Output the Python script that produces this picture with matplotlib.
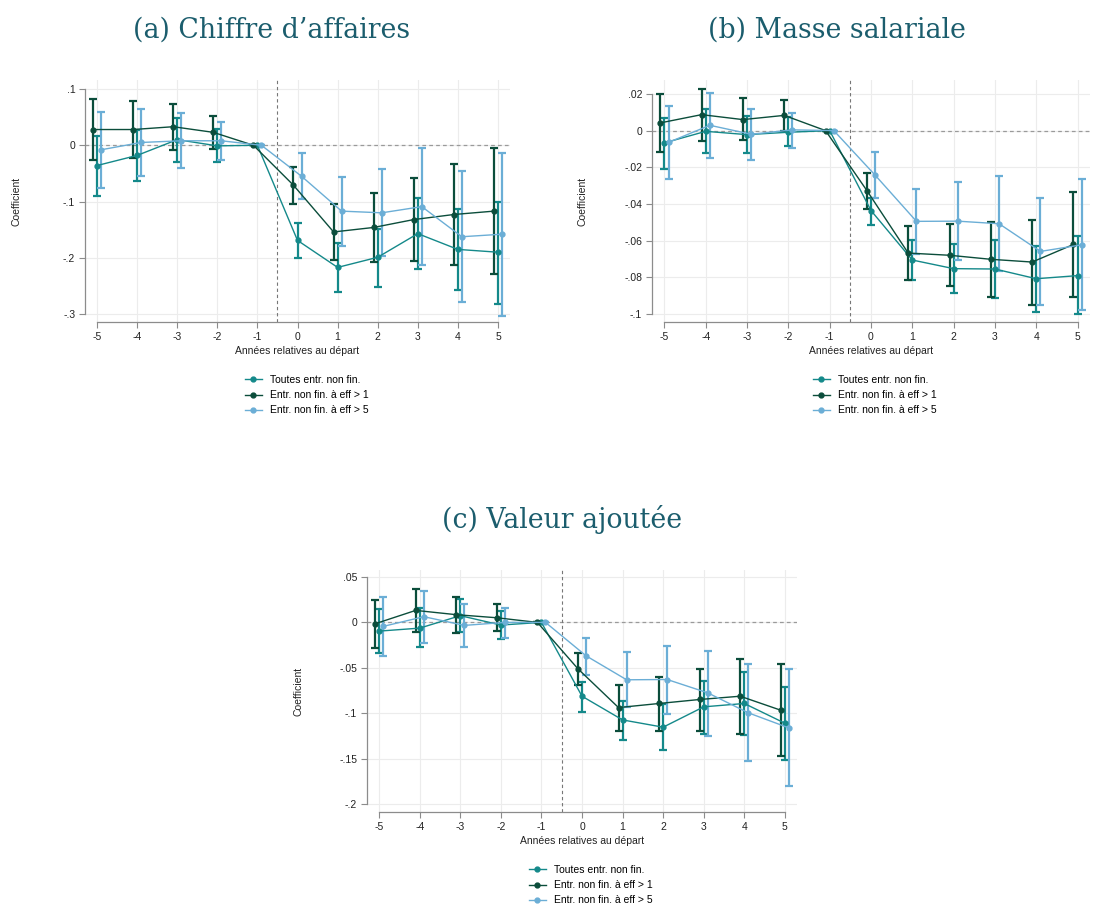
import numpy as np
import matplotlib
matplotlib.use('Agg')
import matplotlib.pyplot as plt

# years relative to departure
years = np.arange(-5, 6)

# (a) Chiffre d'affaires
a_all = [-0.036, -0.018, 0.010, -0.001, 0, -0.169, -0.217, -0.199, -0.157, -0.185, -0.190]
a_all_hi = [0.017, 0.027, 0.048, 0.029, 0, -0.1375, -0.174, -0.148, -0.094, -0.113, -0.101]
a_all_lo = [-0.090, -0.064, -0.029, -0.030, 0, -0.201, -0.261, -0.251, -0.219, -0.257, -0.282]
a_e1 = [0.028, 0.028, 0.033, 0.023, 0, -0.071, -0.154, -0.146, -0.132, -0.123, -0.117]
a_e1_hi = [0.083, 0.079, 0.074, 0.052, 0, -0.038, -0.105, -0.085, -0.058, -0.034, -0.005]
a_e1_lo = [-0.027, -0.022, -0.008, -0.006, 0, -0.105, -0.204, -0.207, -0.205, -0.212, -0.229]
a_e5 = [-0.008, 0.005, 0.008, 0.008, 0, -0.055, -0.117, -0.120, -0.109, -0.1625, -0.158]
a_e5_hi = [0.060, 0.064, 0.057, 0.042, 0, -0.014, -0.057, -0.042, -0.005, -0.045, -0.013]
a_e5_lo = [-0.076, -0.054, -0.040, -0.027, 0, -0.096, -0.179, -0.196, -0.213, -0.279, -0.304]

# (b) Masse salariale
b_all = [-0.0067, -0.0004, -0.0022, -0.0009, 0, -0.0436, -0.0706, -0.0753, -0.0755, -0.0808, -0.0791]
b_all_hi = [0.0071, 0.0118, 0.0080, 0.0074, 0, -0.0370, -0.0595, -0.0620, -0.0595, -0.0628, -0.0577]
b_all_lo = [-0.0207, -0.0123, -0.0120, -0.0083, 0, -0.0514, -0.0817, -0.0886, -0.0915, -0.0987, -0.1002]
b_e1 = [0.0042, 0.0087, 0.0060, 0.0083, 0, -0.0327, -0.0668, -0.0680, -0.0702, -0.0717, -0.0621]
b_e1_hi = [0.0198, 0.0227, 0.0176, 0.0165, 0, -0.0229, -0.0523, -0.0508, -0.0497, -0.0485, -0.0336]
b_e1_lo = [-0.0116, -0.0056, -0.0054, -0.0002, 0, -0.0425, -0.0817, -0.0849, -0.0906, -0.0951, -0.0907]
b_e5 = [-0.0064, 0.0029, -0.0020, 0.0004, 0, -0.0243, -0.0495, -0.0494, -0.0508, -0.0659, -0.0623]
b_e5_hi = [0.0134, 0.0203, 0.0116, 0.0098, 0, -0.0116, -0.0316, -0.0280, -0.0249, -0.0367, -0.0265]
b_e5_lo = [-0.0265, -0.0149, -0.0160, -0.0094, 0, -0.0365, -0.0671, -0.0706, -0.0766, -0.0949, -0.0978]

# (c) Valeur ajoutée
c_all = [-0.0096, -0.0063, 0.0074, -0.0029, 0, -0.0813, -0.1074, -0.1154, -0.0930, -0.0893, -0.1110]
c_all_hi = [0.0151, 0.0154, 0.0261, 0.0121, 0, -0.0654, -0.0864, -0.0904, -0.0643, -0.0544, -0.0710]
c_all_lo = [-0.0342, -0.0276, -0.0110, -0.0180, 0, -0.0982, -0.1290, -0.1401, -0.1224, -0.1235, -0.1518]
c_e1 = [-0.0015, 0.0132, 0.0085, 0.0051, 0, -0.0511, -0.0938, -0.0893, -0.0849, -0.0813, -0.0967]
c_e1_hi = [0.0246, 0.0368, 0.0283, 0.0199, 0, -0.0335, -0.0691, -0.0599, -0.0511, -0.0401, -0.0460]
c_e1_lo = [-0.0280, -0.0110, -0.0118, -0.0099, 0, -0.0684, -0.1191, -0.1195, -0.1199, -0.1224, -0.1474]
c_e5 = [-0.0044, 0.0063, -0.0033, 0.0000, 0, -0.0368, -0.0632, -0.0629, -0.0776, -0.0996, -0.1162]
c_e5_hi = [0.0283, 0.0346, 0.0206, 0.0162, 0, -0.0169, -0.0331, -0.0261, -0.0313, -0.0463, -0.0518]
c_e5_lo = [-0.0371, -0.0224, -0.0268, -0.0176, 0, -0.0574, -0.0930, -0.1004, -0.1246, -0.1526, -0.1805]

labels = ['Toutes entr. non fin.', 'Entr. non fin. à eff > 1', 'Entr. non fin. à eff > 5']
colors = ['#14898a', '#0b4d3b', '#6baed6']
offsets = [0.0, -0.1, 0.1]

plt.rcParams['font.family'] = ['Liberation Sans', 'DejaVu Sans']
plt.rcParams['axes.unicode_minus'] = False
W, H = 1093, 905
fig = plt.figure(figsize=(W / 100, H / 100), dpi=100)
title_color = '#1b5d6d'


def panel(rect_px, ylim, yticks, yticklabels, series, title, title_xy, leg_xy):
    x0, y0, x1, y1 = rect_px
    w, h = x1 - x0, y1 - y0
    ax = fig.add_axes([x0 / W, 1 - y1 / H, w / W, h / H])
    ax.set_xlim(-5.3, 5.3)
    ax.set_ylim(*ylim)

    # grid and reference lines
    for t in yticks:
        ax.axhline(t, color='#ececec', lw=0.8, zorder=0)
    for t in years:
        ax.axvline(t, color='#ececec', lw=0.8, zorder=0)
    ax.axhline(0, color='#9a9a9a', lw=0.9, ls=(0, (3, 2.5)), zorder=1)
    ax.axvline(-0.5, color='#777777', lw=0.8, ls=(0, (3, 2.5)), zorder=1)

    handles = []
    for (est, hi, lo), col, off, lab in zip(series, colors, offsets, labels):
        est = np.array(est)
        hi = np.array(hi)
        lo = np.array(lo)
        x = years + off
        ax.errorbar(x, est, yerr=[est - lo, hi - est], fmt='none', ecolor=col,
                    elinewidth=1.6, capsize=3, capthick=1.6, zorder=2)
        ln, = ax.plot(x, est, color=col, lw=1.0, marker='o', ms=3.5, zorder=3, label=lab)
        handles.append(ln)

    ax.set_yticks(yticks)
    ax.set_yticklabels(yticklabels)
    ax.set_xticks(years)
    ax.tick_params(labelsize=7.5, length=4, width=0.8, color='#8c8c8c', labelcolor='#222222', pad=3)
    for s in ['top', 'right']:
        ax.spines[s].set_visible(False)
    for s in ['left', 'bottom']:
        ax.spines[s].set_color('#8c8c8c')
        ax.spines[s].set_linewidth(0.9)
    ax.spines['left'].set_bounds(yticks[-1], yticks[0])
    ax.spines['bottom'].set_bounds(-5, 5)

    ax.set_ylabel('Coefficient', fontsize=7.5, color='#222222')
    ax.yaxis.set_label_coords(-64 / w, 0.5)
    ax.set_xlabel('Années relatives au départ', fontsize=7.5, color='#222222')
    ax.xaxis.set_label_coords(0.5, -24 / h)

    fig.text(title_xy[0] / W, 1 - title_xy[1] / H, title, ha='center', va='center',
             fontsize=19.3, family='DejaVu Serif', color=title_color)

    fig.legend(handles=handles, loc='upper left',
               bbox_to_anchor=(leg_xy[0] / W, 1 - leg_xy[1] / H),
               frameon=False, fontsize=7.5, handlelength=1.6, handletextpad=0.8,
               labelspacing=0.5, borderpad=0, borderaxespad=0)
    return ax


panel((85, 80, 510, 322), (-0.314, 0.116), [0.1, 0, -0.1, -0.2, -0.3],
      ['.1', '0', '-.1', '-.2', '-.3'],
      [(a_all, a_all_hi, a_all_lo), (a_e1, a_e1_hi, a_e1_lo), (a_e5, a_e5_hi, a_e5_lo)],
      '(a) Chiffre d\u2019affaires', (272, 30), (245, 375))

panel((652, 80, 1090, 322), (-0.1044, 0.0276), [0.02, 0, -0.02, -0.04, -0.06, -0.08, -0.1],
      ['.02', '0', '-.02', '-.04', '-.06', '-.08', '-.1'],
      [(b_all, b_all_hi, b_all_lo), (b_e1, b_e1_hi, b_e1_lo), (b_e5, b_e5_hi, b_e5_lo)],
      '(b) Masse salariale', (837, 30), (813, 375))

panel((367, 570, 797, 812), (-0.2088, 0.0577), [0.05, 0, -0.05, -0.1, -0.15, -0.2],
      ['.05', '0', '-.05', '-.1', '-.15', '-.2'],
      [(c_all, c_all_hi, c_all_lo), (c_e1, c_e1_hi, c_e1_lo), (c_e5, c_e5_hi, c_e5_lo)],
      '(c) Valeur ajoutée', (562, 520), (529, 865))

fig.savefig('out.png', dpi=100)
